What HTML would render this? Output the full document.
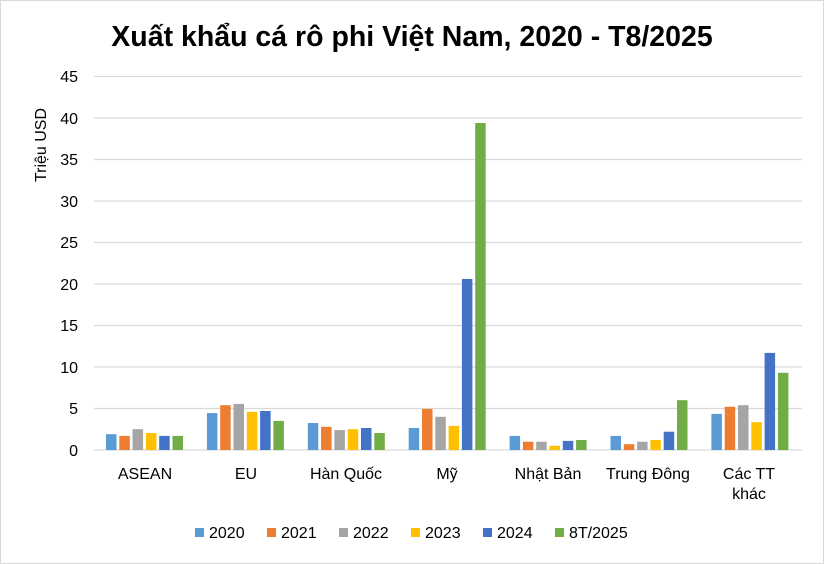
<!DOCTYPE html>
<html><head><meta charset="utf-8"><style>
html,body{margin:0;padding:0;background:#fff}
svg{display:block;font-family:"Liberation Sans",Arial,sans-serif}
</style></head><body>
<svg width="824" height="564" viewBox="0 0 824 564">
<rect x="0.5" y="0.5" width="823" height="563" fill="#fff" stroke="#d9d9d9"/>
<text x="412" y="46" text-anchor="middle" font-size="28.5" font-weight="bold" fill="#000">Xuất khẩu cá rô phi Việt Nam, 2020 - T8/2025</text>
<g stroke="#d9d9d9" stroke-width="1.3">
<line x1="94" x2="802" y1="76.5" y2="76.5"/><line x1="94" x2="802" y1="118" y2="118"/>
<line x1="94" x2="802" y1="159.5" y2="159.5"/><line x1="94" x2="802" y1="201" y2="201"/>
<line x1="94" x2="802" y1="242.5" y2="242.5"/><line x1="94" x2="802" y1="284" y2="284"/>
<line x1="94" x2="802" y1="325.5" y2="325.5"/><line x1="94" x2="802" y1="367" y2="367"/>
<line x1="94" x2="802" y1="408.5" y2="408.5"/><line x1="94" x2="802" y1="450" y2="450"/>
</g>
<g font-size="16" fill="#000" text-anchor="end">
<text x="78" y="82">45</text><text x="78" y="124">40</text><text x="78" y="165">35</text>
<text x="78" y="207">30</text><text x="78" y="248">25</text><text x="78" y="290">20</text>
<text x="78" y="331">15</text><text x="78" y="373">10</text><text x="78" y="414">5</text><text x="78" y="456">0</text>
</g>
<text transform="translate(46,145) rotate(-90)" text-anchor="middle" font-size="16">Triệu USD</text>
<g fill="#5b9bd5">
<rect x="106" y="434.2" width="10.5" height="15.8"/><rect x="206.9" y="413.1" width="10.5" height="36.9"/><rect x="307.8" y="423" width="10.5" height="27"/><rect x="408.7" y="428" width="10.5" height="22"/><rect x="509.6" y="435.9" width="10.5" height="14.1"/><rect x="610.5" y="435.9" width="10.5" height="14.1"/><rect x="711.4" y="413.9" width="10.5" height="36.1"/>
</g>
<g fill="#ed7d31">
<rect x="119.3" y="435.9" width="10.5" height="14.1"/><rect x="220.2" y="405.2" width="10.5" height="44.8"/><rect x="321.1" y="426.8" width="10.5" height="23.2"/><rect x="422" y="408.9" width="10.5" height="41.1"/><rect x="522.9" y="441.7" width="10.5" height="8.3"/><rect x="623.8" y="444.2" width="10.5" height="5.8"/><rect x="724.7" y="406.8" width="10.5" height="43.2"/>
</g>
<g fill="#a5a5a5">
<rect x="132.6" y="429.2" width="10.5" height="20.8"/><rect x="233.5" y="403.9" width="10.5" height="46.1"/><rect x="334.4" y="430.1" width="10.5" height="19.9"/><rect x="435.3" y="416.8" width="10.5" height="33.2"/><rect x="536.2" y="441.7" width="10.5" height="8.3"/><rect x="637.1" y="441.7" width="10.5" height="8.3"/><rect x="738" y="405.2" width="10.5" height="44.8"/>
</g>
<g fill="#ffc000">
<rect x="145.9" y="433" width="10.5" height="17"/><rect x="246.8" y="411.8" width="10.5" height="38.2"/><rect x="347.7" y="429.2" width="10.5" height="20.8"/><rect x="448.6" y="425.9" width="10.5" height="24.1"/><rect x="549.5" y="445.8" width="10.5" height="4.2"/><rect x="650.4" y="440" width="10.5" height="10"/><rect x="751.3" y="422.2" width="10.5" height="27.8"/>
</g>
<g fill="#4472c4">
<rect x="159.2" y="435.9" width="10.5" height="14.1"/><rect x="260.1" y="411" width="10.5" height="39"/><rect x="361" y="428" width="10.5" height="22"/><rect x="461.9" y="279" width="10.5" height="171"/><rect x="562.8" y="440.9" width="10.5" height="9.1"/><rect x="663.7" y="431.7" width="10.5" height="18.3"/><rect x="764.6" y="352.9" width="10.5" height="97.1"/>
</g>
<g fill="#70ad47">
<rect x="172.5" y="435.9" width="10.5" height="14.1"/><rect x="273.4" y="420.9" width="10.5" height="29.1"/><rect x="374.3" y="433" width="10.5" height="17"/><rect x="475.2" y="123" width="10.5" height="327"/><rect x="576.1" y="440" width="10.5" height="10"/><rect x="677" y="400.2" width="10.5" height="49.8"/><rect x="777.9" y="372.8" width="10.5" height="77.2"/>
</g>
<g font-size="16" text-anchor="middle" fill="#000">
<text x="145" y="479">ASEAN</text><text x="246" y="479">EU</text><text x="346" y="479">Hàn Quốc</text>
<text x="447" y="479">Mỹ</text><text x="548" y="479">Nhật Bản</text><text x="648" y="479">Trung Đông</text>
<text x="749" y="479">Các TT</text><text x="749" y="499">khác</text>
</g>
<g font-size="16" fill="#000">
<rect x="195" y="528" width="9" height="9" fill="#5b9bd5"/><text x="209" y="538">2020</text>
<rect x="267" y="528" width="9" height="9" fill="#ed7d31"/><text x="281" y="538">2021</text>
<rect x="339" y="528" width="9" height="9" fill="#a5a5a5"/><text x="353" y="538">2022</text>
<rect x="411" y="528" width="9" height="9" fill="#ffc000"/><text x="425" y="538">2023</text>
<rect x="483" y="528" width="9" height="9" fill="#4472c4"/><text x="497" y="538">2024</text>
<rect x="555" y="528" width="9" height="9" fill="#70ad47"/><text x="569" y="538">8T/2025</text>
</g>
</svg>
</body></html>
